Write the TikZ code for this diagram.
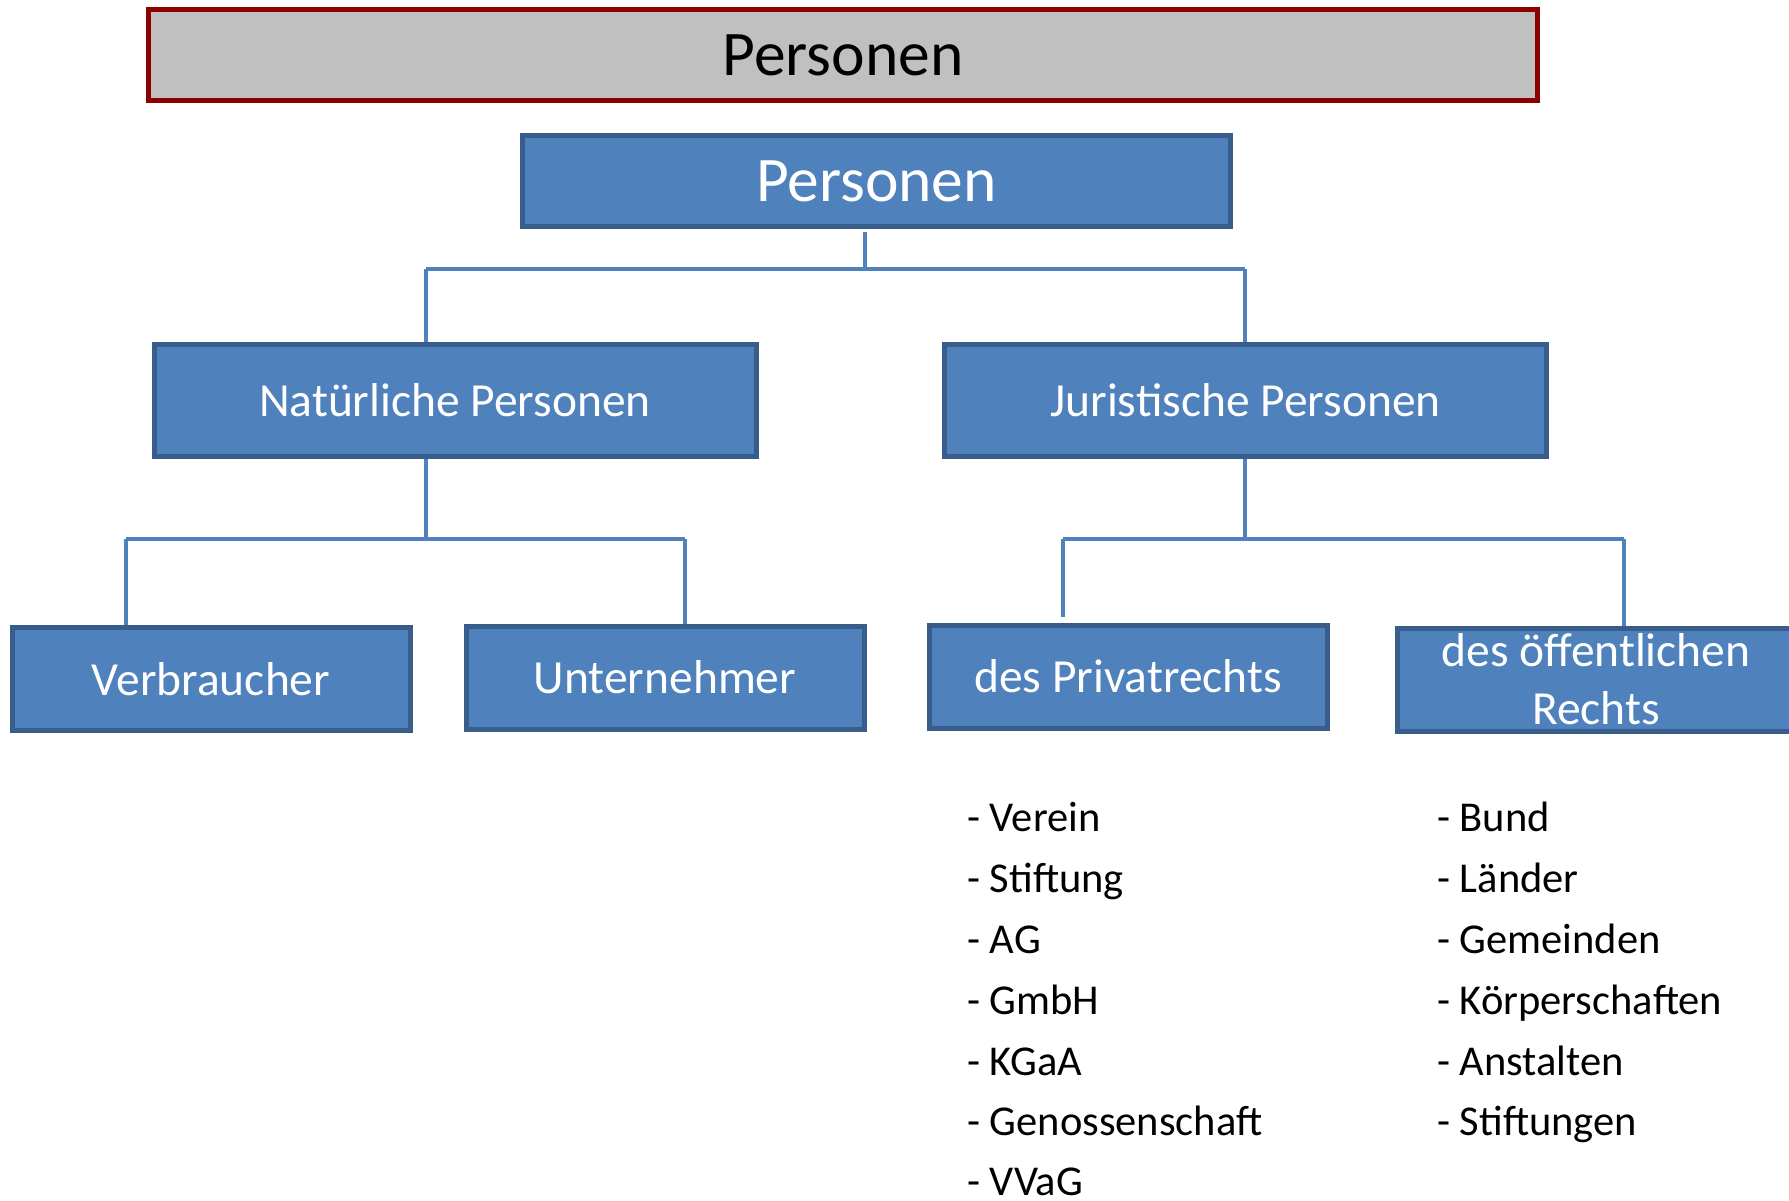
\documentclass[tikz,border=0pt]{standalone}
\usepackage{fontspec}
\setmainfont{Carlito}
\definecolor{boxfill}{HTML}{4F81BD}
\definecolor{boxborder}{HTML}{385D8A}
\definecolor{bannerred}{HTML}{8C0000}
\definecolor{bannergray}{HTML}{C0C0C0}
\begin{document}
\begin{tikzpicture}[x=1pt,y=-1pt,
  box/.style={draw=boxborder, fill=boxfill, line width=5pt, text=white, inner sep=0pt},
  bigtxt/.style={font=\fontsize{63.5}{75}\selectfont},
  midtxt/.style={font=\fontsize{47.5}{58}\selectfont},
  lvtwo/.style={box, midtxt, minimum width=602pt, minimum height=112pt},
  leaf/.style={box, midtxt, minimum width=398pt, minimum height=103pt, align=center},
  conn/.style={draw=boxfill, line width=3.5pt},
  item/.style={anchor=base west, inner sep=0pt, font=\fontsize{42.5}{50}\selectfont}]
\clip (0,0) rectangle (1789,1200);
\fill[white] (0,0) rectangle (1789,1200);

% banner
\node[draw=bannerred, fill=bannergray, line width=5pt, minimum width=1389pt,
      minimum height=91pt, inner sep=0pt, bigtxt] (banner) at (843,55) {Personen};

% boxes
\node[box, bigtxt, minimum width=708pt, minimum height=91pt] (root) at (876.5,181) {Personen};
\node[lvtwo] (nat) at (455,400.5) {Natürliche Personen};
\node[lvtwo] (jur) at (1245.5,400.5) {Juristische Personen};
\node[leaf] (verb) at (211,679) {Verbraucher};
\node[leaf] (unt) at (665,677.5) {Unternehmer};
\node[leaf] (priv) at (1128,676.5) {des Privatrechts};
\node[leaf] (oeff) at (1596,679.5) {des öffentlichen\\Rechts};

% connectors level 1
\coordinate (a0) at (865,269);
\coordinate (a1) at (426,269);
\coordinate (a2) at (1245,269);
\draw[conn] ([yshift=-3pt]root.south -| a0) -- (a0);
\draw[conn] (a1) -- (a2);
\draw[conn] (a1) -- (a1 |- nat.north);
\draw[conn] (a2) -- (a2 |- jur.north);

% connectors natural persons
\coordinate (b0) at (426,539);
\coordinate (b1) at (126,539);
\coordinate (b2) at (685,539);
\draw[conn] (nat.south -| b0) -- (b0);
\draw[conn] (b1) -- (b2);
\draw[conn] (b1) -- (b1 |- verb.north);
\draw[conn] (b2) -- (b2 |- unt.north);

% connectors legal persons
\coordinate (c0) at (1245,539);
\coordinate (c1) at (1063,539);
\coordinate (c2) at (1624,539);
\draw[conn] (jur.south -| c0) -- (c0);
\draw[conn] (c1) -- (c2);
\draw[conn] (c1) -- ([yshift=6pt]c1 |- priv.north);
\draw[conn] (c2) -- (c2 |- oeff.north);

% lists
\node[item] (l1) at (967,831) {- Verein};
\node[item] (l2) at (967,892) {- Stiftung};
\node[item] (l3) at (967,953) {- AG};
\node[item] (l4) at (967,1014) {- GmbH};
\node[item] (l5) at (967,1075) {- KGaA};
\node[item] (l6) at (967,1135) {- Genossenschaft};
\node[item] (l7) at (967,1195) {- VVaG};

\node[item] (r1) at (1437,831) {- Bund};
\node[item] (r2) at (1437,892) {- Länder};
\node[item] (r3) at (1437,953) {- Gemeinden};
\node[item] (r4) at (1437,1014) {- Körperschaften};
\node[item] (r5) at (1437,1075) {- Anstalten};
\node[item] (r6) at (1437,1135) {- Stiftungen};
\end{tikzpicture}
\end{document}
